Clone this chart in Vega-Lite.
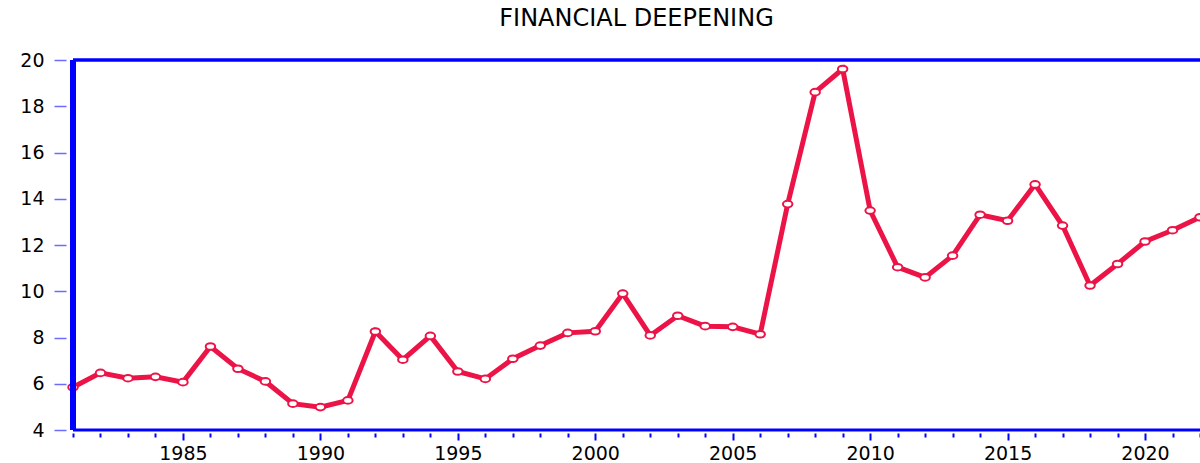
{
  "$schema": "https://vega.github.io/schema/vega-lite/v6.json",
  "width": 1127,
  "height": 370,
  "autosize": "none",
  "padding": {"left": 73, "top": 60, "right": 0, "bottom": 33},
  "background": "white",
  "config": {"view": {"stroke": null}, "font": "DejaVu Sans"},
  "title": {"text": "FINANCIAL DEEPENING", "fontSize": 24, "fontWeight": "normal", "font": "DejaVu Sans", "color": "black", "anchor": "middle", "frame": "group", "offset": 20},
  "data": {"values": [
    {"year": 1981, "value": 5.85},
    {"year": 1982, "value": 6.47},
    {"year": 1983, "value": 6.24},
    {"year": 1984, "value": 6.30},
    {"year": 1985, "value": 6.07},
    {"year": 1986, "value": 7.61},
    {"year": 1987, "value": 6.65},
    {"year": 1988, "value": 6.10},
    {"year": 1989, "value": 5.14},
    {"year": 1990, "value": 4.99},
    {"year": 1991, "value": 5.28},
    {"year": 1992, "value": 8.26},
    {"year": 1993, "value": 7.04},
    {"year": 1994, "value": 8.07},
    {"year": 1995, "value": 6.53},
    {"year": 1996, "value": 6.21},
    {"year": 1997, "value": 7.08},
    {"year": 1998, "value": 7.65},
    {"year": 1999, "value": 8.20},
    {"year": 2000, "value": 8.27},
    {"year": 2001, "value": 9.90},
    {"year": 2002, "value": 8.09},
    {"year": 2003, "value": 8.94},
    {"year": 2004, "value": 8.49},
    {"year": 2005, "value": 8.46},
    {"year": 2006, "value": 8.14},
    {"year": 2007, "value": 13.77},
    {"year": 2008, "value": 18.61},
    {"year": 2009, "value": 19.61},
    {"year": 2010, "value": 13.49},
    {"year": 2011, "value": 11.04},
    {"year": 2012, "value": 10.60},
    {"year": 2013, "value": 11.54},
    {"year": 2014, "value": 13.31},
    {"year": 2015, "value": 13.05},
    {"year": 2016, "value": 14.62},
    {"year": 2017, "value": 12.84},
    {"year": 2018, "value": 10.25},
    {"year": 2019, "value": 11.18},
    {"year": 2020, "value": 12.15},
    {"year": 2021, "value": 12.64},
    {"year": 2022, "value": 13.20}
  ]},
  "resolve": {"axis": {"x": "independent", "y": "independent"}},
  "layer": [
    {
      "mark": {"type": "line", "color": "#EC1347", "strokeWidth": 5, "strokeJoin": "miter"},
      "encoding": {
        "x": {
          "field": "year", "type": "quantitative",
          "scale": {"domain": [1981, 2022], "nice": false, "zero": false},
          "axis": {
            "orient": "bottom",
            "title": null, "grid": false, "domain": false, "offset": 3,
            "values": [1985, 1990, 1995, 2000, 2005, 2010, 2015, 2020],
            "tickSize": 7, "tickColor": "#0000FF", "tickWidth": 2,
            "format": "d", "labelFontSize": 19, "labelFont": "DejaVu Sans", "labelColor": "black",
            "labelPadding": 4, "labelOverlap": false, "labelFlush": false, "labelBound": false
          }
        },
        "y": {
          "field": "value", "type": "quantitative",
          "scale": {"domain": [4, 20], "nice": false, "zero": false},
          "axis": {
            "orient": "left",
            "title": null, "grid": false, "domain": false, "offset": 7,
            "values": [4, 6, 8, 10, 12, 14, 16, 18, 20],
            "tickSize": 12, "tickColor": "#6B6BFF", "tickWidth": 1.5,
            "labelFontSize": 19, "labelFont": "DejaVu Sans", "labelColor": "black",
            "labelPadding": 10, "labelOverlap": false, "labelFlush": false
          }
        }
      }
    },
    {
      "mark": {"type": "point", "shape": "M-1,0 A1,0.7 0 1,0 1,0 A1,0.7 0 1,0 -1,0 Z", "size": 90, "fill": "white", "stroke": "#EC1347", "strokeWidth": 2, "opacity": 1, "filled": true},
      "encoding": {
        "x": {
          "field": "year", "type": "quantitative",
          "axis": {
            "orient": "bottom",
            "title": null, "grid": false, "domain": false, "offset": 3,
            "values": [1981,1982,1983,1984,1986,1987,1988,1989,1991,1992,1993,1994,1996,1997,1998,1999,2001,2002,2003,2004,2006,2007,2008,2009,2011,2012,2013,2014,2016,2017,2018,2019,2021,2022],
            "tickSize": 4, "tickColor": "#0000FF", "tickWidth": 2,
            "labels": false
          }
        },
        "y": {"field": "value", "type": "quantitative", "axis": null}
      }
    },
    {
      "data": {"values": [{}]},
      "mark": {"type": "rule", "color": "#0000FF", "strokeWidth": 3.5},
      "encoding": {"y": {"datum": 20, "type": "quantitative", "axis": null}}
    },
    {
      "data": {"values": [{}]},
      "mark": {"type": "rule", "color": "#0000FF", "strokeWidth": 3},
      "encoding": {"y": {"datum": 4, "type": "quantitative", "axis": null}}
    },
    {
      "data": {"values": [{}]},
      "mark": {"type": "rule", "color": "#0000FF", "strokeWidth": 6},
      "encoding": {"x": {"datum": 1981, "type": "quantitative", "axis": null}}
    }
  ]
}
